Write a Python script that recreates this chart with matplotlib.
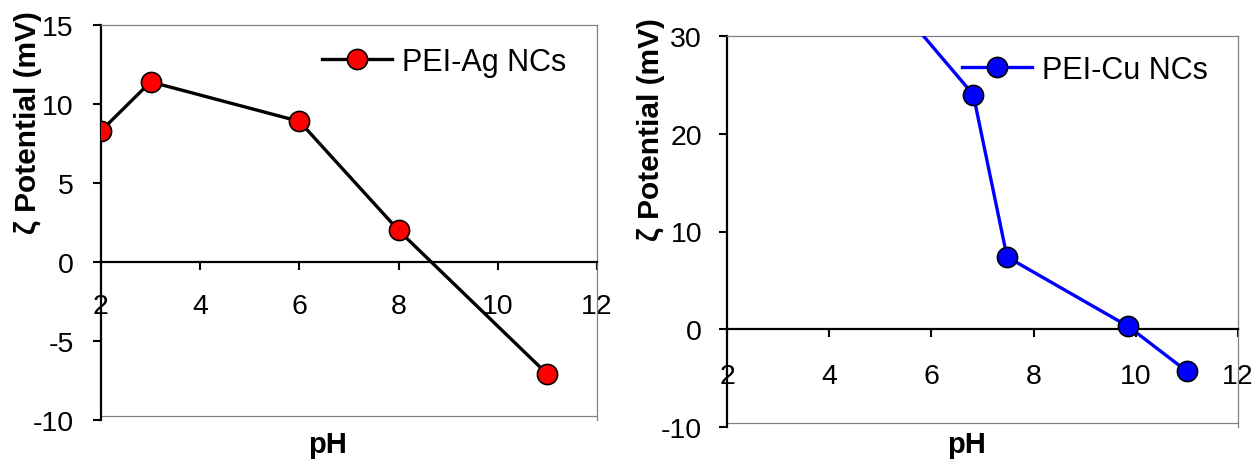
import matplotlib
matplotlib.use("Agg")
import matplotlib.pyplot as plt

plt.rcParams['font.family'] = ['Liberation Sans', 'DejaVu Sans']
plt.rcParams['axes.unicode_minus'] = False

# Data
ag_ph = [2, 3, 6, 8, 11]
ag_zeta = [8.3, 11.4, 8.9, 2.0, -7.1]
cu_ph = [5.0, 6.82, 7.48, 9.85, 11.0]
cu_zeta = [35.2, 24.0, 7.4, 0.3, -4.3]

x_ticks = [2, 4, 6, 8, 10, 12]
ag_yticks = [-10, -5, 0, 5, 10, 15]
cu_yticks = [-10, 0, 10, 20, 30]

W, H = 1258, 464
fig = plt.figure(figsize=(W / 100, H / 100), dpi=100)

def px_axes(x0, y0, x1, y1):
    return fig.add_axes([x0 / W, 1 - y1 / H, (x1 - x0) / W, (y1 - y0) / H])

def style(ax, ylim, yticks, xpad, ypad):
    ax.set_xlim(2, 12)
    ax.set_ylim(*ylim)
    ax.set_xticks(x_ticks)
    ax.set_yticks(yticks)
    ax.spines['bottom'].set_position(('data', 0))
    ax.spines['bottom'].set_color('black')
    ax.spines['bottom'].set_linewidth(1.6)
    ax.spines['left'].set_color('black')
    ax.spines['left'].set_linewidth(1.6)
    for s in ['top', 'right']:
        ax.spines[s].set_color('#808080')
        ax.spines[s].set_linewidth(0.9)
    ax.plot([0, 1], [0.01, 0.01], transform=ax.transAxes, color='#808080', lw=0.9, clip_on=False)
    ax.tick_params(axis='x', direction='out', length=6, width=1.5, pad=xpad, labelsize=20.5)
    ax.tick_params(axis='y', direction='out', length=6, width=1.5, pad=ypad, labelsize=20.5)

# Left panel
ax1 = px_axes(101, 26, 597, 421)
style(ax1, (-10, 15), ag_yticks, 16, 13.5)
ax1.plot(ag_ph, ag_zeta, color='black', lw=2.4, marker='o', ms=14.5,
         mfc='#FF0000', mec='black', mew=1.2, zorder=3, label='PEI-Ag NCs')
ax1.legend(loc='center left', bbox_to_anchor=(0.446, 0.906), frameon=False,
           fontsize=22, handlelength=2.3, handletextpad=0.3, borderpad=0, borderaxespad=0)
fig.text(28 / W, 1 - 234 / H, 'ζ Potential (mV)', rotation=90, ha='center', va='bottom',
         fontsize=21.5, fontweight='bold')
fig.text(328 / W, 1 - 445 / H, 'pH', ha='center', va='center', fontsize=21, fontweight='bold')

# Right panel
ax2 = px_axes(727, 37, 1238, 428)
style(ax2, (-10, 30), cu_yticks, 18, 12)
ax2.plot(cu_ph, cu_zeta, color='#0000FF', lw=2.4, marker='o', ms=14.5,
         mfc='#0000FF', mec='black', mew=1.2, zorder=3, label='PEI-Cu NCs')
ax2.legend(loc='center left', bbox_to_anchor=(0.46, 0.913), frameon=False,
           fontsize=22, handlelength=2.3, handletextpad=0.3, borderpad=0, borderaxespad=0)
fig.text(651 / W, 1 - 241 / H, 'ζ Potential (mV)', rotation=90, ha='center', va='bottom',
         fontsize=21.5, fontweight='bold')
fig.text(967 / W, 1 - 445 / H, 'pH', ha='center', va='center', fontsize=21, fontweight='bold')

fig.savefig('out.png', dpi=100)
